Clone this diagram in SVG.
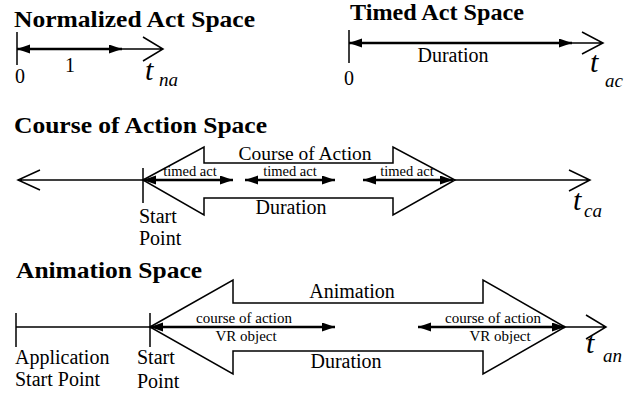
<svg xmlns="http://www.w3.org/2000/svg" width="633" height="395" viewBox="0 0 633 395">
<style>
text{font-family:'Liberation Serif','Tinos','Nimbus Roman','FreeSerif','Times New Roman','Times','DejaVu Serif',serif;fill:#000}
.title{font-weight:bold;font-size:24px}
.lbl{font-size:20px}
.sm{font-size:15px}
.t{font-style:italic;font-size:30px}
.sub{font-style:italic;font-size:19px}
.c{text-anchor:middle}
.thin{stroke:#000;stroke-width:1.5;fill:none}
.thick{stroke:#000;stroke-width:2.5;fill:none;marker-start:url(#ah);marker-end:url(#ah)}
.blk{stroke:#000;stroke-width:1.5;fill:none;stroke-linejoin:miter}
</style>
<defs>
<marker id="ah" markerUnits="userSpaceOnUse" markerWidth="14" markerHeight="10" refX="13" refY="4.5" orient="auto-start-reverse">
<path d="M0,0 L13,4.5 L0,9 z" fill="#000"/>
</marker>
</defs>

<g id="normalized">
<text class="title" x="14" y="27" textLength="241" lengthAdjust="spacingAndGlyphs">Normalized Act Space</text>
<text class="lbl c" x="70" y="72">1</text>
<text class="lbl c" x="20" y="83">0</text>
<text class="t" x="145" y="80">t</text>
<text class="sub" x="159" y="86">na</text>
</g>

<g id="timed">
<text class="title" x="350" y="20" textLength="174" lengthAdjust="spacingAndGlyphs">Timed Act Space</text>
<text class="lbl c" x="453" y="62">Duration</text>
<text class="lbl c" x="349" y="85">0</text>
<text class="t" x="590" y="72">t</text>
<text class="sub" x="605" y="87">ac</text>
</g>

<g id="coa">
<text class="title" x="14" y="133" textLength="253" lengthAdjust="spacingAndGlyphs">Course of Action Space</text>
<polygon class="blk" points="143,180 204,147 204,163 393,163 393,147 455,180 393,215 393,198 204,198 204,215"/>
<text class="lbl c" x="305" y="160" style="font-size:19.5px">Course of Action</text>
<text class="lbl c" x="291" y="214">Duration</text>
<text class="sm c" x="190" y="176" style="font-size:14.5px">timed act</text>
<text class="sm c" x="290" y="176" style="font-size:14.5px">timed act</text>
<text class="sm c" x="407" y="176" style="font-size:14.5px">timed act</text>
<text class="lbl" x="139" y="223">Start</text>
<text class="lbl" x="139" y="245">Point</text>
<text class="t" x="573" y="210">t</text>
<text class="sub" x="584" y="217">ca</text>
</g>

<g id="animation">
<text class="title" x="16" y="278" textLength="186" lengthAdjust="spacingAndGlyphs">Animation Space</text>
<polygon class="blk" points="150,327 233,280 233,303 483,303 483,280 565,327 483,374 483,351 233,351 233,374"/>
<text class="lbl c" x="352" y="298">Animation</text>
<text class="lbl c" x="346" y="368">Duration</text>
<text class="sm c" x="244" y="323">course of action</text>
<text class="sm c" x="246" y="341">VR object</text>
<text class="sm c" x="493" y="323">course of action</text>
<text class="sm c" x="500" y="341">VR object</text>
<text class="lbl" x="15" y="364">Application</text>
<text class="lbl" x="15" y="386">Start Point</text>
<text class="lbl" x="137" y="364">Start</text>
<text class="lbl" x="137" y="388">Point</text>
<text class="t" x="586" y="353">t</text>
<text class="sub" x="603" y="362">an</text>
</g>

<g id="connectors">
<path class="thin" d="M17,32 V65 M17,49 H163 M143,37 L163,49 L143,61"/>
<path class="thick" d="M17,49 H122"/>
<path class="thin" d="M349,30 V63 M349,43 H603 M582,32 L603,43 L582,54"/>
<path class="thick" d="M349,43 H572"/>
<path class="thin" d="M18,180 H143 M455,180 H590 M40,170 L18,180 L40,190 M569,170 L590,180 L569,191 M143,168 V203"/>
<path class="thick" d="M143,180 H233"/>
<path class="thick" d="M245,180 H335"/>
<path class="thick" d="M363,180 H453"/>
<path class="thin" d="M16,327 H150 M565,327 H606 M586,315 L606,327 L586,339 M16,313 V347 M150,313 V347"/>
<path class="thick" d="M150,327 H335"/>
<path class="thick" d="M418,327 H565"/>
</g>
</svg>
